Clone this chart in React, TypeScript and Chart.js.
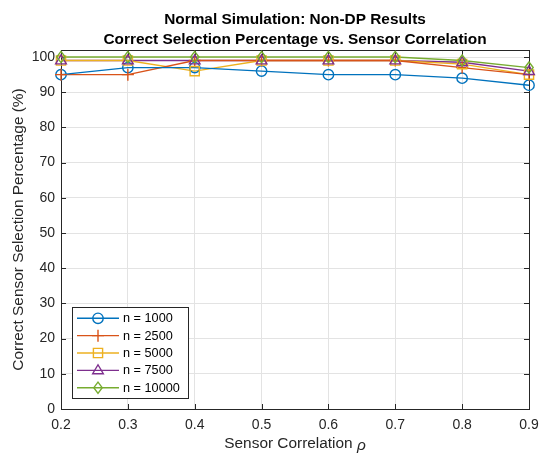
import React, { useEffect, useRef } from "react";
import { Chart, registerables } from "chart.js";

Chart.register(...registerables);

const rhoValues = [0.2, 0.3, 0.4, 0.5, 0.6, 0.7, 0.8, 0.9];
const n1000 = [95, 97, 97, 96, 95, 95, 94, 92];
const n2500 = [95, 95, 99, 99, 99, 99, 97, 95];
const n5000 = [99, 99, 96, 99, 99, 99, 98, 95];
const n7500 = [99, 99, 99, 99, 99, 99, 98.5, 96];
const n10000 = [100, 100, 100, 100, 100, 100, 99, 97];
const seriesLabels = ["n = 1000", "n = 2500", "n = 5000", "n = 7500", "n = 10000"];
const seriesColors = ["#0072BD", "#D95319", "#EDB120", "#7E2F8E", "#77AC30"];
const seriesMarkers = ["circle", "cross", "rect", "triangle", "rectRot"];
const yTicks = [0, 10, 20, 30, 40, 50, 60, 70, 80, 90, 100];
const xTicks = [0.2, 0.3, 0.4, 0.5, 0.6, 0.7, 0.8, 0.9];
const titleLines = ["Normal Simulation: Non-DP Results", "Correct Selection Percentage vs. Sensor Correlation"];
const yTitle = "Correct Sensor Selection Percentage (%)";
const xTitleMain = "Sensor Correlation ";
const xTitleSymbol = "ρ";

const FONT = "'Liberation Sans', Arial, Helvetica, sans-serif";
const TEXT = "#262626";
const AXIS = "#262626";

const markerRadius = (m: string) => (m === "circle" ? 5.2 : m === "rect" ? 4.6 : m === "cross" ? 6 : 5.6);

function drawMarker(ctx: CanvasRenderingContext2D, style: string, x: number, y: number, r: number, color: string) {
  ctx.save();
  ctx.strokeStyle = color;
  ctx.lineWidth = 1.4;
  ctx.beginPath();
  if (style === "circle") {
    ctx.arc(x, y, r, 0, Math.PI * 2);
  } else if (style === "cross") {
    ctx.moveTo(x - r, y);
    ctx.lineTo(x + r, y);
    ctx.moveTo(x, y - r);
    ctx.lineTo(x, y + r);
  } else if (style === "rect") {
    ctx.rect(x - r, y - r, 2 * r, 2 * r);
  } else if (style === "triangle") {
    ctx.moveTo(x, y - r);
    ctx.lineTo(x + r * 0.95, y + r * 0.6);
    ctx.lineTo(x - r * 0.95, y + r * 0.6);
    ctx.closePath();
  } else if (style === "rectRot") {
    ctx.moveTo(x, y - r);
    ctx.lineTo(x + r * 0.75, y);
    ctx.lineTo(x, y + r);
    ctx.lineTo(x - r * 0.75, y);
    ctx.closePath();
  }
  ctx.stroke();
  ctx.restore();
}

const decorPlugin = {
  id: "matlabDecor",
  beforeDatasetsDraw(chart: any) {
    const { ctx, chartArea } = chart;
    const { left, right, top, bottom } = chartArea;
    const xs = chart.scales.x;
    const ys = chart.scales.y;
    ctx.save();
    ctx.strokeStyle = AXIS;
    ctx.lineWidth = 1;
    ctx.strokeRect(Math.round(left) + 0.5, Math.round(top) + 0.5, Math.round(right - left), Math.round(bottom - top));
    ctx.beginPath();
    for (const t of xTicks) {
      const px = Math.round(xs.getPixelForValue(t)) + 0.5;
      ctx.moveTo(px, bottom);
      ctx.lineTo(px, bottom - 5);
      ctx.moveTo(px, top);
      ctx.lineTo(px, top + 5);
    }
    for (const t of yTicks) {
      const py = Math.round(ys.getPixelForValue(t)) + 0.5;
      ctx.moveTo(left, py);
      ctx.lineTo(left + 5, py);
      ctx.moveTo(right, py);
      ctx.lineTo(right - 5, py);
    }
    ctx.stroke();
    ctx.restore();
  },
  afterDatasetsDraw(chart: any) {
    const { ctx, chartArea } = chart;
    const { left, right, bottom } = chartArea;
    ctx.save();
    chart.data.datasets.forEach((ds: any, i: number) => {
      const meta = chart.getDatasetMeta(i);
      meta.data.forEach((pt: any) => {
        drawMarker(ctx, seriesMarkers[i], pt.x, pt.y, markerRadius(seriesMarkers[i]), seriesColors[i]);
      });
    });
    // legend
    const lx = left + 11;
    const ly = 307;
    const lw = 116;
    const lh = 91;
    const rowH = 17.35;
    ctx.fillStyle = "#ffffff";
    ctx.fillRect(lx, ly, lw, lh);
    ctx.strokeStyle = AXIS;
    ctx.lineWidth = 1;
    ctx.strokeRect(Math.round(lx) + 0.5, Math.round(ly) + 0.5, lw, lh);
    ctx.font = `12.7px ${FONT}`;
    ctx.textBaseline = "middle";
    ctx.textAlign = "left";
    seriesLabels.forEach((lab, i) => {
      const cy = 318.3 + rowH * i;
      ctx.strokeStyle = seriesColors[i];
      ctx.lineWidth = 1.4;
      ctx.beginPath();
      ctx.moveTo(lx + 5, cy);
      ctx.lineTo(lx + 47, cy);
      ctx.stroke();
      drawMarker(ctx, seriesMarkers[i], lx + 26, cy, markerRadius(seriesMarkers[i]), seriesColors[i]);
      ctx.fillStyle = "#000000";
      ctx.fillText(lab, lx + 51, cy + 0.5);
    });
    // titles
    const cx = (left + right) / 2;
    ctx.fillStyle = "#000000";
    ctx.textAlign = "center";
    ctx.textBaseline = "alphabetic";
    ctx.font = `bold 15.4px ${FONT}`;
    ctx.fillText(titleLines[0], cx, 24);
    ctx.fillText(titleLines[1], cx, 44.3);
    // x title with italic rho
    ctx.fillStyle = TEXT;
    ctx.textBaseline = "middle";
    ctx.font = `15.4px ${FONT}`;
    const w1 = ctx.measureText(xTitleMain).width;
    ctx.font = `italic 15.4px ${FONT}`;
    const w2 = ctx.measureText(xTitleSymbol).width;
    const sx = cx - (w1 + w2) / 2;
    ctx.textAlign = "left";
    ctx.font = `15.4px ${FONT}`;
    ctx.fillText(xTitleMain, sx, 443.5);
    ctx.font = `italic 15.4px ${FONT}`;
    ctx.fillText(xTitleSymbol, sx + w1, 445.5);
    // y title
    ctx.font = `15.4px ${FONT}`;
    ctx.textAlign = "center";
    ctx.translate(19, (chartArea.top + bottom) / 2);
    ctx.rotate(-Math.PI / 2);
    ctx.fillText(yTitle, 0, 0);
    ctx.restore();
  },
};

export default function App() {
  const ref = useRef<HTMLCanvasElement | null>(null);
  useEffect(() => {
    document.body.style.margin = "0";
    if (!ref.current) return;
    const all = [n1000, n2500, n5000, n7500, n10000];
    const chart = new Chart(ref.current, {
      type: "scatter",
      data: {
        datasets: all.map((vals, i) => ({
          label: seriesLabels[i],
          data: vals.map((v, j) => ({ x: rhoValues[j], y: v })),
          showLine: true,
          borderColor: seriesColors[i],
          backgroundColor: "transparent",
          borderWidth: 1.4,
          pointRadius: 0,
          pointHoverRadius: 0,
          tension: 0,
        })),
      },
      options: {
        animation: false,
        responsive: false,
        events: [],
        layout: { padding: { top: 50, right: 12, left: 0, bottom: 0 } },
        plugins: {
          legend: { display: false },
          title: { display: false },
          tooltip: { enabled: false },
        },
        scales: {
          x: {
            type: "linear",
            min: 0.2,
            max: 0.9,
            afterBuildTicks: (s: any) => {
              s.ticks = xTicks.map((v) => ({ value: v }));
            },
            afterFit: (s: any) => {
              s.height = 46;
              s.paddingLeft = 0;
              s.paddingRight = 0;
            },
            ticks: {
              color: TEXT,
              font: { family: FONT, size: 14 },
              padding: 8,
              maxRotation: 0,
              callback: (v: any) => Number(v).toFixed(1),
            },
            grid: { color: "#e3e3e3", drawTicks: false, lineWidth: 1 },
            border: { display: false },
          },
          y: {
            type: "linear",
            min: 0,
            max: 102,
            afterBuildTicks: (s: any) => {
              s.ticks = yTicks.map((v) => ({ value: v }));
            },
            afterFit: (s: any) => {
              s.width = 61;
              s.paddingTop = 0;
              s.paddingBottom = 0;
            },
            ticks: {
              color: TEXT,
              font: { family: FONT, size: 14 },
              padding: 6,
              callback: (v: any) => String(v),
            },
            grid: { color: "#e3e3e3", drawTicks: false, lineWidth: 1 },
            border: { display: false },
          },
        },
      },
      plugins: [decorPlugin],
    } as any);
    return () => chart.destroy();
  }, []);
  return <canvas ref={ref} width={541} height={455} style={{ display: "block" }} />;
}
